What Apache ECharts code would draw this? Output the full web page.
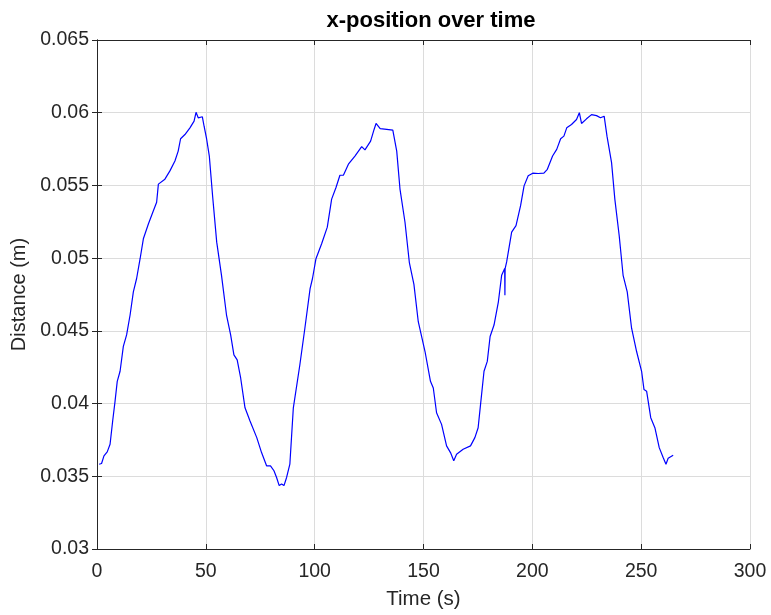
<!DOCTYPE html>
<html>
<head>
<meta charset="utf-8">
<script src="https://cdn.jsdelivr.net/npm/echarts@6/dist/echarts.min.js"></script>
<style>
  html, body { margin: 0; padding: 0; background: #fff; }
  #chart { width: 771px; height: 615px; }
</style>
</head>
<body>
<div id="chart"></div>
<script>
// x-position trace
const timeS = [
  1.0, 2.1, 3.2, 4.7, 6.0, 7.2, 8.3, 9.3, 10.6, 12.1, 13.6, 15.2, 16.7, 18.2, 19.8,
  21.3, 23.6, 25.9, 27.4, 28.2, 28.9, 31.2, 33.5, 35.8, 37.3, 38.4, 40.4, 42.7, 44.6,
  45.5, 46.5, 47.3, 48.4, 49.2, 50.4, 51.6, 53.1, 55.0, 57.2, 59.5, 61.4, 62.9, 64.4,
  66.0, 68.0, 70.3, 73.4, 75.6, 77.9, 79.7, 81.3, 82.5, 83.7, 84.8, 85.9, 87.1, 88.6,
  90.2, 93.2, 95.5, 97.9, 99.0, 100.6, 103.2, 105.8, 107.8, 109.8, 111.6, 113.2, 115.5,
  118.5, 121.6, 123.1, 125.7, 127.3, 128.2, 130.1, 133.1, 135.9, 137.7, 139.2, 141.5,
  143.5, 145.6, 147.6, 150.7, 153.2, 154.5, 156.0, 158.3, 160.6, 162.4, 163.9, 165.2,
  168.2, 171.6, 173.6, 175.1, 176.2, 177.8, 179.3, 180.6, 182.4, 184.4, 185.9, 187.3,
  187.4, 187.5, 188.2, 190.5, 192.5, 194.6, 196.2, 198.1, 200.2, 202.7, 205.3, 206.9,
  209.3, 211.2, 213.0, 214.5, 215.8, 218.0, 220.3, 221.6, 222.6, 224.9, 227.2, 229.5,
  231.3, 233.0, 234.3, 236.4, 237.9, 239.9, 241.7, 243.6, 245.6, 247.9, 250.2, 251.3,
  252.5, 254.4, 256.3, 258.3, 260.1, 261.4, 262.4, 264.7
];
const distM = [
  0.03583, 0.03588, 0.0364, 0.03668, 0.0372, 0.0388, 0.04017, 0.04153, 0.04222, 0.04393,
  0.04472, 0.04609, 0.04768, 0.0486, 0.04996, 0.05133, 0.05235, 0.05326, 0.05384, 0.05509,
  0.0552, 0.05543, 0.056, 0.05668, 0.05736, 0.05821, 0.0585, 0.05896, 0.05942, 0.06003,
  0.05965, 0.05953, 0.05972, 0.05907, 0.05816, 0.05702, 0.05429, 0.0511, 0.04882, 0.04609,
  0.04472, 0.04335, 0.04301, 0.04176, 0.03971, 0.0388, 0.03766, 0.03663, 0.03572, 0.03572,
  0.03538, 0.03492, 0.03436, 0.03447, 0.03436, 0.03492, 0.03583, 0.03971, 0.04267, 0.04518,
  0.0479, 0.0486, 0.04996, 0.05099, 0.05213, 0.05406, 0.05486, 0.0557, 0.0557, 0.05646,
  0.05702, 0.05767, 0.05744, 0.05805, 0.05885, 0.05926, 0.0589, 0.05885, 0.0588, 0.05736,
  0.05475, 0.05247, 0.0497, 0.0482, 0.04563, 0.04358, 0.04153, 0.04107, 0.03937, 0.03857,
  0.03709, 0.03663, 0.03607, 0.03652, 0.03686, 0.03709, 0.03766, 0.03834, 0.03993, 0.04222,
  0.0429, 0.04461, 0.0454, 0.047, 0.04882, 0.04928, 0.04745, 0.04928, 0.04974, 0.05179,
  0.05224, 0.05361, 0.05497, 0.05566, 0.05584, 0.05582, 0.05584, 0.05611, 0.05702, 0.05748,
  0.05821, 0.05839, 0.05896, 0.05919, 0.05953, 0.06, 0.05926, 0.05958, 0.05987, 0.0598,
  0.05965, 0.05976, 0.05839, 0.05657, 0.05406, 0.05156, 0.04882, 0.04768, 0.04518, 0.04358,
  0.04222, 0.04096, 0.04085, 0.03903, 0.03834, 0.03697, 0.03629, 0.03583, 0.03624, 0.03645
];
const xTicks = { min: 0, max: 300, interval: 50 };
const yTicks = { min: 0.03, max: 0.065, interval: 0.005 };

const axisColor = '#262626';
const font = 'Liberation Sans, Arial, Helvetica, sans-serif';

const chart = echarts.init(document.getElementById('chart'));

// secondary axes only draw the box edge and inward ticks (MATLAB look)
const boxAxis = {
  axisLine: { show: true, lineStyle: { color: axisColor, width: 1 } },
  axisTick: { show: true, inside: true, length: 5, lineStyle: { color: axisColor } },
  axisLabel: { show: false },
  splitLine: { show: false }
};

chart.setOption({
  animation: false,
  title: {
    text: 'x-position over time',
    left: 426,
    textAlign: 'center',
    top: 5,
    textStyle: { fontFamily: font, fontSize: 22, fontWeight: 'bold', color: '#000' }
  },
  grid: { left: 97, right: 21, top: 40, bottom: 63, containLabel: false },
  xAxis: [
    {
      type: 'value',
      ...xTicks,
      name: 'Time (s)',
      nameLocation: 'middle',
      nameGap: 40,
      nameTextStyle: { fontFamily: font, fontSize: 20.5, color: axisColor },
      axisLine: { show: true, onZero: false, lineStyle: { color: axisColor } },
      axisTick: { show: true, inside: true, length: 5, lineStyle: { color: axisColor } },
      axisLabel: { fontFamily: font, fontSize: 19.5, color: axisColor, margin: 13 },
      splitLine: { show: true, lineStyle: { color: '#dcdcdc', width: 1 } }
    },
    { type: 'value', position: 'top', ...xTicks, ...boxAxis }
  ],
  yAxis: [
    {
      type: 'value',
      ...yTicks,
      name: 'Distance (m)',
      nameLocation: 'middle',
      nameGap: 65,
      nameTextStyle: { fontFamily: font, fontSize: 20, color: axisColor },
      axisLine: { show: true, onZero: false, lineStyle: { color: axisColor } },
      axisTick: { show: true, inside: true, length: 5, lineStyle: { color: axisColor } },
      axisLabel: { fontFamily: font, fontSize: 19.5, color: axisColor, margin: 8 },
      splitLine: { show: true, lineStyle: { color: '#dcdcdc', width: 1 } }
    },
    { type: 'value', position: 'right', ...yTicks, ...boxAxis }
  ],
  series: [
    {
      type: 'line',
      data: timeS.map((t, i) => [t, distM[i]]),
      showSymbol: false,
      symbol: 'none',
      lineStyle: { color: '#0000ff', width: 1.2 },
      clip: true
    }
  ]
});
</script>
</body>
</html>
